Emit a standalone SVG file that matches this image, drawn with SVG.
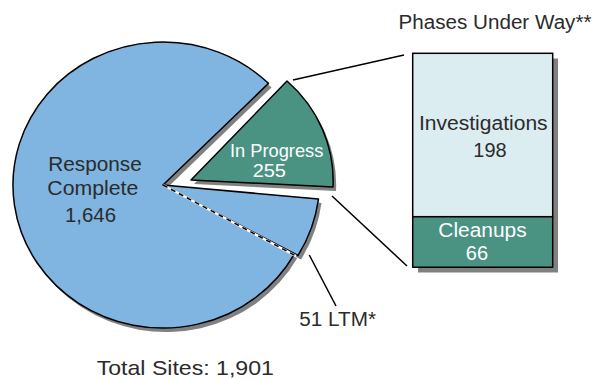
<svg xmlns="http://www.w3.org/2000/svg" width="594" height="379" viewBox="0 0 594 379">
<style>
text{font-family:"Liberation Sans",Arial,sans-serif;font-size:20px;fill:#2b2b2b}
.w{fill:#ffffff}
.m{text-anchor:middle}
.sh{fill:#808080}
.blue{fill:#7fb5e0;stroke:#000;stroke-width:1.5;stroke-linejoin:round}
.teal{fill:#4a9282;stroke:#000;stroke-width:1.5;stroke-linejoin:round}
.light{fill:#dbedf1;stroke:#000;stroke-width:1.5}
.conn{stroke:#000;stroke-width:1.5;fill:none}
</style>
<rect width="594" height="379" fill="#ffffff"/>
<g id="shadows">
<path class="sh" transform="translate(3,4)" d="M163,185 L268.5,83.4 A150,143 0 1,0 294.2,254.3 Z"/>
<path class="sh" transform="translate(3,4)" d="M163,185 L318.5,199 A156,149 0 0,1 298,255.5 Z"/>
<path class="sh" transform="translate(3,4)" d="M191,180 L287,81 A142,135 0 0,1 333,187 Z"/>
<rect class="sh" x="418" y="58.5" width="140" height="214"/>
</g>
<g id="response-complete">
<path class="blue" d="M163,185 L268.5,83.4 A150,143 0 1,0 294.2,254.3 Z"/>
<text class="m" x="95" y="170.7" textLength="93.4" lengthAdjust="spacingAndGlyphs">Response</text>
<text class="m" x="92.8" y="195" textLength="91" lengthAdjust="spacingAndGlyphs">Complete</text>
<text class="m" x="90.5" y="221.7" textLength="51" lengthAdjust="spacingAndGlyphs">1,646</text>
</g>
<g id="ltm">
<path class="blue" d="M163,185 L318.5,199 A156,149 0 0,1 298,255.5 Z"/>
<line x1="163" y1="185" x2="296" y2="256" stroke="#fff" stroke-width="2.5"/>
<line x1="163" y1="185" x2="296" y2="256" stroke="#000" stroke-width="1.5" stroke-dasharray="5,4"/>
<text x="299.3" y="326" textLength="76.7" lengthAdjust="spacingAndGlyphs">51 LTM*</text>
</g>
<g id="in-progress">
<path class="teal" d="M191,180 L287,81 A142,135 0 0,1 333,187 Z"/>
<text class="w m" x="276.7" y="156.7" style="font-size:18.5px" textLength="93.3" lengthAdjust="spacingAndGlyphs">In Progress</text>
<text class="w m" x="269.3" y="176.7" style="font-size:19px" textLength="33.3" lengthAdjust="spacingAndGlyphs">255</text>
</g>
<g id="investigations">
<rect class="light" x="412.7" y="53.3" width="140" height="163.4"/>
<text class="m" x="483.3" y="130" textLength="128.7" lengthAdjust="spacingAndGlyphs">Investigations</text>
<text class="m" x="490" y="156.7" textLength="33.3" lengthAdjust="spacingAndGlyphs">198</text>
</g>
<g id="cleanups">
<rect class="teal" x="412.7" y="216.7" width="140" height="50.6"/>
<text class="w m" x="482.5" y="236.7" textLength="88.3" lengthAdjust="spacingAndGlyphs">Cleanups</text>
<text class="w m" x="477" y="260" textLength="22.3" lengthAdjust="spacingAndGlyphs">66</text>
</g>
<g id="connectors">
<line class="conn" x1="293" y1="80" x2="404" y2="55"/>
<line class="conn" x1="332" y1="196" x2="407" y2="266"/>
<line class="conn" x1="309.3" y1="255" x2="336" y2="306"/>
</g>
<g id="labels">
<text class="m" x="495" y="29" textLength="193" lengthAdjust="spacingAndGlyphs">Phases Under Way**</text>
<text class="m" x="185.3" y="374.5" style="font-size:21px" textLength="177.3" lengthAdjust="spacingAndGlyphs">Total Sites: 1,901</text>
</g>
</svg>
